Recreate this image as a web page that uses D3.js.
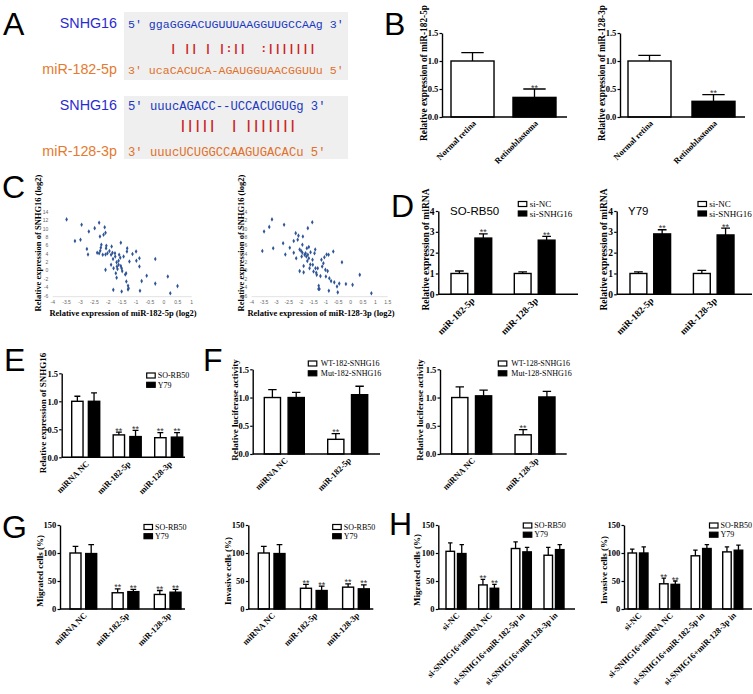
<!DOCTYPE html>
<html>
<head>
<meta charset="utf-8">
<script src="https://cdn.jsdelivr.net/npm/d3@7"></script>
<style>
  body { margin: 0; background: #fff; }
  svg { display: block; }
</style>
</head>
<body>
<script>
// ---- A: base pairing ----
const a182Top = "ggaGGGACUGUUUAAGGUUGCCAAg";
const a182Pair = "   | || | |:||  :|||||||";
const a182Bot = "ucaCACUCA-AGAUGGUAACGGUUu";
const a128Top = "uuucAGACC--UCCACUGUGg";
const a128Pair = "    |||||  | |||||||";
const a128Bot = "uuucUCUGGCCAAGUGACACu";

// ---- B: tissue expression ----
const bTissue = ["Normal retina", "Retinoblastoma"];
const b182 = [1.0, 0.35], b182Err = [0.15, 0.15], b182Sig = [0, 1];
const b128 = [1.0, 0.28], b128Err = [0.10, 0.12], b128Sig = [0, 1];

// ---- C: correlation ----
const cYTicks = [-6, -4, -2, 0, 2, 4, 6, 8, 10, 12, 14];
const c182XTicks = [-4, -3.5, -3, -2.5, -2, -1.5, -1, -0.5, 0, 0.5, 1];
const c128XTicks = [-4, -3.5, -3, -2.5, -2, -1.5, -1, -0.5, 0, 0.5, 1, 1.5];
const c182X = [-3.5,-3.2,-3.0,-2.96,-2.77,-2.73,-2.7,-2.49,-2.33,-2.3,-2.25,-2.27,-2.29,-2.33,-2.4,-2.17,-2.13,-2.1,-2.2,-2.1,-2.07,-2.08,-2.03,-2.1,-1.96,-1.88,-1.9,-1.85,-1.83,-1.9,-1.81,-1.82,-1.76,-1.75,-1.7,-1.69,-1.67,-1.73,-1.63,-1.63,-1.57,-1.61,-1.7,-1.55,-1.55,-1.52,-1.5,-1.45,-1.52,-1.39,-1.36,-1.35,-1.32,-1.33,-1.29,-1.27,-1.29,-1.24,-1.13,-1.0,-0.99,-0.88,-0.88,-0.86,-0.8,-0.62,-0.31,-0.31,0.14,0.23,0.49];
const c182Y = [12.3,7.1,7.4,11.0,5.2,3.9,9.4,10.2,11.5,8.2,6.2,5.5,4.8,4.2,4.3,8.6,10.4,9.1,3.8,3.9,6.0,5.4,4.2,0.2,4.7,5.8,3.8,4.3,2.8,1.4,0.6,-4.6,4.2,3.4,2.0,1.0,0.4,-0.6,1.4,2.4,3.1,3.8,-1.7,6.7,1.1,0.6,-0.1,3.4,-5.0,-0.9,-0.6,-2.6,5.4,4.6,-3.6,-4.2,-4.5,2.2,4.0,4.6,2.4,3.0,1.0,-4.8,-2.5,-1.2,2.8,-3.1,-1.4,-5.4,-3.7];
const c128X = [-3.57,-3.5,-3.29,-3.18,-3.13,-2.73,-2.69,-2.64,-2.46,-2.3,-2.3,-2.22,-2.2,-2.14,-2.11,-2.06,-2.06,-2.0,-1.98,-1.95,-1.95,-1.93,-1.9,-1.9,-1.86,-1.82,-1.79,-1.77,-1.75,-1.73,-1.73,-1.69,-1.69,-1.66,-1.63,-1.62,-1.55,-1.54,-1.53,-1.5,-1.46,-1.43,-1.42,-1.39,-1.37,-1.33,-1.3,-1.29,-1.26,-1.22,-1.18,-1.15,-1.1,-1.06,-1.02,-1.0,-0.97,-0.93,-0.89,-0.86,-0.79,-0.7,-0.66,-0.55,-0.52,-0.88,-0.46,-0.35,-0.19,0.08,0.37,0.84];
const c128Y = [4.7,9.4,10.5,12.3,5.4,6.6,11.0,3.9,5.5,7.1,4.3,9.0,3.0,7.4,8.4,5.1,-0.1,4.7,3.4,6.2,4.3,8.2,1.1,-0.4,3.8,4.2,3.4,5.4,2.3,10.2,3.8,5.7,3.0,0.6,1.5,4.4,11.6,2.6,1.4,-0.2,4.2,5.1,0.6,-0.5,-1.0,0.6,-4.4,-3.6,-4.4,-1.3,2.6,1.0,1.8,3.2,0.2,-1.4,3.9,-0.1,3.8,-1.8,-2.5,4.6,-2.8,-3.8,-5.2,-4.8,-3.1,2.0,-3.2,-3.4,-1.0,-5.4];

// ---- D: knockdown ----
const dMirs = ["miR-182-5p", "miR-128-3p"];
const dRB50NC = [1.0, 1.0], dRB50NCErr = [0.12, 0.08];
const dRB50Si = [2.7, 2.6], dRB50SiErr = [0.2, 0.18];
const dY79NC = [1.0, 1.0], dY79NCErr = [0.08, 0.15];
const dY79Si = [2.9, 2.85], dY79SiErr = [0.2, 0.33];
const dSig = [1, 1];

// ---- E: SNHG16 after mimics ----
const eGroups = ["miRNA NC", "miR-182-5p", "miR-128-3p"];
const eRB50 = [1.0, 0.4, 0.35], eRB50Err = [0.09, 0.05, 0.09];
const eY79 = [1.0, 0.37, 0.36], eY79Err = [0.15, 0.11, 0.08];
const eSig = [0, 1, 1];

// ---- F: luciferase ----
const f182Groups = ["miRNA NC", "miR-182-5p"];
const fWT182 = [1.0, 0.26], fWT182Err = [0.14, 0.1];
const fMut182 = [1.0, 1.05], fMut182Err = [0.09, 0.15];
const f128Groups = ["miRNA NC", "miR-128-3p"];
const fWT128 = [1.0, 0.34], fWT128Err = [0.19, 0.09];
const fMut128 = [1.03, 1.01], fMut128Err = [0.1, 0.1];
const fSig = [0, 1];

// ---- G: migration / invasion after mimics ----
const gGroups = ["miRNA NC", "miR-182-5p", "miR-128-3p"];
const gMigRB50 = [100, 29, 26], gMigRB50Err = [12, 7, 7];
const gMigY79 = [99, 31, 30], gMigY79Err = [16, 4, 5];
const gInvRB50 = [100, 37, 39], gInvRB50Err = [12, 7, 6];
const gInvY79 = [99, 33, 36], gInvY79Err = [16, 8, 7];
const gSig = [0, 1, 1];

// ---- H: rescue ----
const hGroups = ["si-NC", "si-SNHG16+miRNA NC", "si-SNHG16+miR-182-5p in", "si-SNHG16+miR-128-3p in"];
const hMigRB50 = [103, 43, 108, 96], hMigRB50Err = [15, 10, 12, 14];
const hMigY79 = [99, 37, 102, 106], hMigY79Err = [16, 7, 8, 9];
const hInvRB50 = [100, 45, 95, 102], hInvRB50Err = [7, 10, 10, 9];
const hInvY79 = [100, 44, 108, 105], hInvY79Err = [11, 6, 7, 9];
const hSig = [0, 1, 0, 0];

const ratioTicks = [0, 0.5, 1.0, 1.5];
const pctTicks = [0, 50, 100, 150];
const dTicks = [0, 1, 2, 3, 4];

const SERIF = "'Liberation Serif','Times New Roman',serif";
const SANS = "'Liberation Sans',Arial,sans-serif";
const MONO = "'Liberation Mono','Courier New',monospace";
const W = 753, H = 694;

const svg = d3.select("body").append("svg").attr("width", W).attr("height", H);
svg.append("rect").attr("width", W).attr("height", H).attr("fill", "#fff");

function letter(t, x, y) {
  svg.append("text").attr("x", x).attr("y", y).text(t)
    .style("font-family", SANS).style("font-size", "32px").attr("fill", "#000");
}

// sequence alignment block
function seqBlock(o) {
  const g = svg.append("g");
  g.append("rect").attr("x", 124).attr("y", o.boxY).attr("width", 224).attr("height", o.boxH)
    .attr("fill", "#efefef");
  const cw = o.fs * 0.6;
  const x5 = 128, xs = x5 + 3 * cw;
  const lab = (t, y, c) => g.append("text").attr("x", 117).attr("y", y).attr("text-anchor", "end")
    .attr("fill", c).style("font-family", SANS).style("font-size", "14.3px").text(t);
  const seq = (t, y, c) => g.append("text").attr("x", x5).attr("y", y).attr("fill", c)
    .style("font-family", MONO).style("font-size", o.fs + "px").text(t);
  lab("SNHG16", o.rows[0], "#2a2ad2");
  seq("5' " + o.top + " 3'", o.rows[0], "#2038c0");
  lab(o.mir, o.rows[2], "#e57a2e");
  seq("3' " + o.bot + " 5'", o.rows[2], "#e0702a");
  const pairs = o.pair.split("").map((c, i) => ({ c, i })).filter(d => d.c !== " ");
  g.selectAll("text.pair").data(pairs).enter().append("text")
    .attr("x", d => xs + d.i * cw).attr("y", o.rows[1])
    .attr("fill", "#cc2222").style("font-family", MONO).style("font-size", o.fs + "px")
    .style("font-weight", "bold")
    .text(d => d.c);
}

function barChart(o) {
  const g = svg.append("g");
  const fs = o.fs || 8.5;
  const y = d3.scaleLinear().domain([0, o.max]).range([o.y0, o.y1]);
  const x = d3.scaleBand().domain(o.cats).range([o.gL, o.gR]).paddingInner(o.pg).paddingOuter(0);
  const xs = d3.scaleBand().domain(o.series.map(s => s.name)).range([0, x.bandwidth()]).paddingInner(o.ps || 0);
  const bw = xs.bandwidth();

  const ya = g.append("g").attr("transform", `translate(${o.x0},0)`)
    .call(d3.axisLeft(y).tickValues(o.ticks).tickSize(2.5).tickSizeOuter(0).tickPadding(1.2).tickFormat(o.fmt));
  ya.select(".domain").attr("stroke-width", 1.4);
  ya.selectAll(".tick line").attr("stroke-width", 1.2);
  ya.selectAll("text").attr("fill", "#000").style("font-family", SERIF)
    .style("font-weight", "bold").style("font-size", fs + "px");

  const recs = [];
  o.series.forEach(s => s.values.forEach((v, i) => recs.push({
    cat: o.cats[i], name: s.name, v, e: s.err[i], sig: s.sig ? s.sig[i] : 0,
    fill: Array.isArray(s.fill) ? s.fill[i] : s.fill
  })));
  const bx = d => x(d.cat) + xs(d.name);

  g.selectAll("path.err").data(recs).enter().append("path")
    .attr("d", d => {
      const cx = bx(d) + bw / 2, t = y(d.v + d.e), hw = bw * 0.26;
      return `M${cx},${y(d.v)}V${t}M${cx - hw},${t}H${cx + hw}`;
    })
    .attr("fill", "none").attr("stroke", "#000").attr("stroke-width", 1.3);

  g.selectAll("rect.bar").data(recs).enter().append("rect")
    .attr("x", d => bx(d)).attr("y", d => y(d.v))
    .attr("width", bw).attr("height", d => o.y0 - y(d.v))
    .attr("fill", d => d.fill).attr("stroke", "#000").attr("stroke-width", 1.4);

  g.append("line").attr("x1", o.x0).attr("x2", o.x1).attr("y1", o.y0).attr("y2", o.y0)
    .attr("stroke", "#000").attr("stroke-width", 1.4);

  // significance marks sit just above the error-bar cap
  g.selectAll("text.sig").data(recs.filter(d => d.sig)).enter().append("text")
    .attr("x", d => bx(d) + bw / 2).attr("y", d => y(d.v + d.e) + 1.5)
    .attr("text-anchor", "middle").attr("fill", "#333")
    .style("font-family", SANS).style("font-size", "9px").text("**");

  g.selectAll("text.xl").data(o.cats).enter().append("text")
    .attr("transform", c => `translate(${x(c) + x.bandwidth() / 2 + 4},${o.y0 + 7}) rotate(-45)`)
    .attr("text-anchor", "end").attr("fill", "#000")
    .style("font-family", SERIF).style("font-weight", "bold").style("font-size", fs + "px")
    .text(c => c);

  // keep the rotated title clear of the tick labels
  const left = o.x0 + ya.node().getBBox().x;
  const tX = Math.min(o.tx + 3, left - 0.8);
  g.append("text").attr("transform", `translate(${tX},${o.ty}) rotate(-90)`)
    .attr("text-anchor", "middle").attr("fill", "#000")
    .style("font-family", SERIF).style("font-weight", "bold").style("font-size", (o.tfs || 9) + "px")
    .text(o.title);

  if (o.legend) {
    const lf = o.legend.fs || 8;
    const off = o.legend.off || 11;
    o.series.forEach((s, i) => {
      const cy = o.legend.y + i * o.legend.dy;
      g.append("rect").attr("x", o.legend.x).attr("y", cy - 2.5).attr("width", 8.5).attr("height", 5)
        .attr("fill", s.fill).attr("stroke", "#000").attr("stroke-width", 1.2);
      g.append("text").attr("x", o.legend.x + off).attr("y", cy + lf * 0.34)
        .attr("fill", "#000").style("font-family", SERIF).style("font-size", lf + "px").text(s.name);
    });
  }
  if (o.cell) {
    g.append("text").attr("x", o.cell.x).attr("y", o.cell.y).attr("fill", "#000")
      .style("font-family", SANS).style("font-size", "11.5px").text(o.cell.t);
  }
}

function scatter(o) {
  const g = svg.append("g");
  const x = d3.scaleLinear().domain(o.xd).range(o.xr);
  const y = d3.scaleLinear().domain([cYTicks[0], cYTicks[cYTicks.length - 1]]).range([295.7, 212.3]);
  g.append("line").attr("x1", o.xr[0]).attr("x2", o.xr[1]).attr("y1", y(-6) + 1).attr("y2", y(-6) + 1)
    .attr("stroke", "#d9d9d9").attr("stroke-width", 0.8);
  g.selectAll("text.xt").data(o.xt).enter().append("text")
    .attr("x", d => x(d)).attr("y", 303.5).attr("text-anchor", "middle").attr("fill", "#666")
    .style("font-family", SANS).style("font-size", "5px").text(d => String(d));
  g.selectAll("text.yt").data(cYTicks).enter().append("text")
    .attr("x", o.xr[0] - 4.5).attr("y", d => y(d) + 1.8).attr("text-anchor", "end").attr("fill", "#666")
    .style("font-family", SANS).style("font-size", "5px").text(d => String(d));
  const pts = o.px.map((v, i) => [v, o.py[i]]);
  g.selectAll("path.pt").data(pts).enter().append("path")
    .attr("transform", d => `translate(${x(d[0])},${y(d[1])})`)
    .attr("d", d3.symbol(d3.symbolDiamond, 6)).attr("fill", "#2f5597");
  g.append("text").attr("transform", `translate(${o.tx + 3},243) rotate(-90)`)
    .attr("text-anchor", "middle").attr("fill", "#000")
    .style("font-family", SERIF).style("font-weight", "bold").style("font-size", "8.5px")
    .text("Relative expression of SNHG16 (log2)");
  g.append("text").attr("x", o.xtx).attr("y", 316).attr("text-anchor", "middle").attr("fill", "#000")
    .style("font-family", SERIF).style("font-weight", "bold").style("font-size", "8.5px")
    .text(o.xtitle);
}

const ratioFmt = d3.format(".1f"), intFmt = d3.format("d");
const ser = (name, values, err, sig, fill) => ({ name, values, err, sig, fill });

// ---- A ----
letter("A", 3, 35);
seqBlock({ boxY: 12, boxH: 68, rows: [28, 52, 74], fs: 11.6, top: a182Top, pair: a182Pair, bot: a182Bot, mir: "miR-182-5p" });
seqBlock({ boxY: 96, boxH: 63, rows: [110, 129, 156], fs: 12.2, top: a128Top, pair: a128Pair, bot: a128Bot, mir: "miR-128-3p" });

// ---- B ----
letter("B", 384, 35);
barChart({ x0: 442, x1: 567, y0: 117, y1: 33, max: 1.5, ticks: ratioTicks, fmt: ratioFmt, fs: 8.5,
  cats: bTissue, gL: 451, gR: 556, pg: 0.306,
  series: [ser("b", b182, b182Err, b182Sig, ["#fff", "#000"])],
  tx: 426, ty: 73, title: "Relative expression of miR-182-5p", tfs: 9.3 });
barChart({ x0: 620, x1: 745, y0: 117, y1: 33, max: 1.5, ticks: ratioTicks, fmt: ratioFmt, fs: 8.5,
  cats: bTissue, gL: 628, gR: 735, pg: 0.328,
  series: [ser("b", b128, b128Err, b128Sig, ["#fff", "#000"])],
  tx: 604, ty: 73, title: "Relative expression of miR-128-3p", tfs: 9.3 });

// ---- C ----
letter("C", 2, 198);
scatter({ xd: [-4, 1], xr: [52.7, 191.7], xt: c182XTicks, px: c182X, py: c182Y, tx: 38, xtx: 123,
  xtitle: "Relative expression of miR-182-5p (log2)" });
scatter({ xd: [-4, 1.5], xr: [251.7, 387.7], xt: c128XTicks, px: c128X, py: c128Y, tx: 241, xtx: 321,
  xtitle: "Relative expression of miR-128-3p (log2)" });

// ---- D ----
letter("D", 391, 217);
barChart({ x0: 438.3, x1: 578, y0: 294.3, y1: 211, max: 4, ticks: dTicks, fmt: intFmt, fs: 9.5,
  cats: dMirs, gL: 451, gR: 555, pg: 0.357, ps: 0.3,
  series: [ser("si-NC", dRB50NC, dRB50NCErr, null, "#fff"), ser("si-SNHG16", dRB50Si, dRB50SiErr, dSig, "#000")],
  tx: 426.7, ty: 249.5, title: "Relative expression of miRNA", tfs: 9.5,
  legend: { x: 518.3, y: 204, dy: 9.5, fs: 9, off: 11.5 }, cell: { x: 450, y: 215, t: "SO-RB50" } });
barChart({ x0: 616.7, x1: 752, y0: 294.3, y1: 211, max: 4, ticks: dTicks, fmt: intFmt, fs: 9.5,
  cats: dMirs, gL: 630, gR: 734, pg: 0.36, ps: 0.29,
  series: [ser("si-NC", dY79NC, dY79NCErr, null, "#fff"), ser("si-SNHG16", dY79Si, dY79SiErr, dSig, "#000")],
  tx: 606.7, ty: 249.5, title: "Relative expression of miRNA", tfs: 9.5,
  legend: { x: 698, y: 204, dy: 9.5, fs: 9, off: 11.2 }, cell: { x: 628, y: 215, t: "Y79" } });

// ---- E ----
letter("E", 4, 371);
barChart({ x0: 61.7, x1: 185, y0: 457.3, y1: 373.3, max: 1.5, ticks: ratioTicks, fmt: ratioFmt,
  cats: eGroups, gL: 71.7, gR: 182.7, pg: 0.325, ps: 0.32,
  series: [ser("SO-RB50", eRB50, eRB50Err, eSig, "#fff"), ser("Y79", eY79, eY79Err, eSig, "#000")],
  tx: 43.3, ty: 413, title: "Relative expression of SNHG16",
  legend: { x: 146.7, y: 375.5, dy: 9.3 } });

// ---- F ----
letter("F", 203, 371);
barChart({ x0: 252.7, x1: 380, y0: 454, y1: 369.3, max: 1.5, ticks: ratioTicks, fmt: ratioFmt,
  cats: f182Groups, gL: 264.3, gR: 367.7, pg: 0.369, ps: 0.32,
  series: [ser("WT-182-SNHG16", fWT182, fWT182Err, fSig, "#fff"), ser("Mut-182-SNHG16", fMut182, fMut182Err, null, "#000")],
  tx: 238, ty: 410, title: "Relative luciferase activity",
  legend: { x: 308.3, y: 363.5, dy: 9.8, off: 12.5 } });
barChart({ x0: 440, x1: 566.7, y0: 454, y1: 369.3, max: 1.5, ticks: ratioTicks, fmt: ratioFmt,
  cats: f128Groups, gL: 451.7, gR: 555, pg: 0.369, ps: 0.32,
  series: [ser("WT-128-SNHG16", fWT128, fWT128Err, fSig, "#fff"), ser("Mut-128-SNHG16", fMut128, fMut128Err, null, "#000")],
  tx: 420, ty: 410, title: "Relative luciferase activity",
  legend: { x: 498.3, y: 363.5, dy: 9.8, off: 13 } });

// ---- G ----
letter("G", 2, 538);
barChart({ x0: 60, x1: 185, y0: 609, y1: 525, max: 150, ticks: pctTicks, fmt: intFmt,
  cats: gGroups, gL: 70, gR: 181, pg: 0.367, ps: 0.3,
  series: [ser("SO-RB50", gMigRB50, gMigRB50Err, gSig, "#fff"), ser("Y79", gMigY79, gMigY79Err, gSig, "#000")],
  tx: 40.7, ty: 571, title: "Migrated cells (%)",
  legend: { x: 144, y: 527, dy: 9.2 } });
barChart({ x0: 248.3, x1: 373.3, y0: 609, y1: 525, max: 150, ticks: pctTicks, fmt: intFmt,
  cats: gGroups, gL: 258.3, gR: 369.3, pg: 0.367, ps: 0.3,
  series: [ser("SO-RB50", gInvRB50, gInvRB50Err, gSig, "#fff"), ser("Y79", gInvY79, gInvY79Err, gSig, "#000")],
  tx: 229.3, ty: 571, title: "Invasive cells (%)",
  legend: { x: 332.7, y: 527, dy: 9.2 } });

// ---- H ----
letter("H", 389, 535);
barChart({ x0: 438.3, x1: 575, y0: 609, y1: 525, max: 150, ticks: pctTicks, fmt: intFmt,
  cats: hGroups, gL: 446, gR: 564, pg: 0.388, ps: 0.26,
  series: [ser("SO-RB50", hMigRB50, hMigRB50Err, hSig, "#fff"), ser("Y79", hMigY79, hMigY79Err, hSig, "#000")],
  tx: 416.7, ty: 570, title: "Migrated cells (%)",
  legend: { x: 523.3, y: 525.5, dy: 9.2 } });
barChart({ x0: 624, x1: 752, y0: 609, y1: 525, max: 150, ticks: pctTicks, fmt: intFmt,
  cats: hGroups, gL: 628, gR: 742.7, pg: 0.367, ps: 0.26,
  series: [ser("SO-RB50", hInvRB50, hInvRB50Err, hSig, "#fff"), ser("Y79", hInvY79, hInvY79Err, hSig, "#000")],
  tx: 610, ty: 570, title: "Invasive cells (%)",
  legend: { x: 709.5, y: 525.5, dy: 9.2 } });
</script>
</body>
</html>
